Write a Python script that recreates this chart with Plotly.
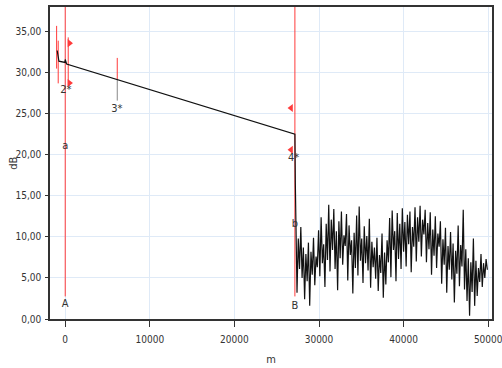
import plotly.graph_objects as go

# ---- data ----
y_ticks = [0, 5, 10, 15, 20, 25, 30, 35]
y_tick_labels = ["0,00", "5,00", "10,00", "15,00", "20,00", "25,00", "30,00", "35,00"]
x_ticks = [0, 10000, 20000, 30000, 40000, 50000]
x_tick_labels = ["0", "10000", "20000", "30000", "40000", "50000"]

# fibre trace (m, dB)
trace_m = [-950, -745, -35, 0, 165, 27150, 27200, 27250, 27300]
trace_db = [32.7, 31.4, 31.25, 31.6, 31.06, 22.5, 16.6, 11.0, 7.5]

# noise after fibre end
noise_start_m = 27400
noise_step_m = 150
noise_db = [
    3.2, 9.8, 6.1, 11.2, 5.0, 8.7, 2.4, 7.9, 4.6, 9.3, 1.6, 8.2,
    5.4, 9.9, 4.1, 7.6, 6.3, 10.8, 5.2, 12.4, 6.8, 9.1, 3.9, 11.6,
    7.2, 13.9, 5.8, 12.1, 8.4, 13.4, 6.1, 10.7, 3.5, 11.9, 7.4, 13.1,
    6.6, 10.2, 8.9, 12.8, 4.7, 11.4, 7.8, 9.6, 3.1, 10.5, 6.2, 12.6,
    5.3, 13.7, 7.1, 9.8, 4.4, 11.3, 6.8, 10.1, 5.9, 12.2, 3.8, 9.4,
    6.3, 8.7, 4.9, 9.9, 3.4, 7.8, 5.6, 10.4, 2.6, 8.1, 4.2, 9.6,
    6.9, 12.3, 5.1, 13.2, 8.4, 10.7, 4.6, 12.9, 7.3, 11.6, 6.1, 13.5,
    8.2, 11.8, 6.4, 12.7, 9.1, 13.1, 5.7, 11.2, 8.8, 13.6, 7.0, 12.4,
    9.4, 13.8, 7.6, 12.1, 10.3, 13.3, 6.9, 11.7, 8.5, 13.0, 5.4, 10.9,
    7.7, 12.5, 6.2, 10.4, 8.8, 11.9, 4.3, 9.7, 6.6, 11.1, 3.2, 8.9,
    6.0, 10.6, 4.8, 9.2, 2.0, 8.3, 5.5, 11.4, 4.0, 9.0, 6.4, 13.3,
    3.6, 8.5, 2.2, 7.4, 0.4, 6.9, 3.3, 9.8, 1.6, 7.1, 2.8, 6.2,
    4.5, 7.9, 3.9, 6.8, 5.0, 7.3, 6.0,
]
noise_m = [noise_start_m + i * noise_step_m for i in range(len(noise_db))]

# cursor markers A / B
cursor_m = [0, 27150]
cursor_top_db = 38.0
cursor_bottom_db = 2.75
cursor_upper_labels = ["a", "b"]
cursor_upper_label_db = [21.0, 11.6]
cursor_lower_labels = ["A", "B"]
cursor_lower_label_db = [1.75, 1.5]

# red event segments (m, dB from, dB to)
event_seg_m = [-1017, -830, 355, 6150]
event_seg_top = [35.7, 33.9, 34.3, 31.8]
event_seg_bot = [30.5, 28.7, 28.3, 29.15]
# grey continuation of event 3 marker
event3_grey_m = 6150
event3_grey_db = [29.15, 26.6]

# event labels
event_label_text = ["2*", "3*", "4*"]
event_label_m = [80, 6110, 27000]
event_label_db = [27.9, 25.5, 19.6]

# arrows
arrow_right_m = [500, 500]
arrow_right_db = [33.6, 28.75]
arrow_left_m = [26700, 26700]
arrow_left_db = [25.7, 20.6]

x_title = "m"
y_title = "dB"

RED = "#ff3b3b"
FONT = "DejaVu Sans Condensed, DejaVu Sans, sans-serif"
TXT = "#333333"

fig = go.Figure()

# cursor lines
for m in cursor_m:
    fig.add_trace(go.Scatter(x=[m, m], y=[cursor_top_db, cursor_bottom_db], mode="lines",
                             line=dict(color=RED, width=1), hoverinfo="skip", showlegend=False))

# event segments
for m, t, b in zip(event_seg_m, event_seg_top, event_seg_bot):
    fig.add_trace(go.Scatter(x=[m, m], y=[t, b], mode="lines",
                             line=dict(color=RED, width=1), hoverinfo="skip", showlegend=False))
fig.add_trace(go.Scatter(x=[event3_grey_m, event3_grey_m], y=event3_grey_db, mode="lines",
                         line=dict(color="#888888", width=1), hoverinfo="skip", showlegend=False))

# main trace + noise
fig.add_trace(go.Scatter(x=trace_m + noise_m, y=trace_db + noise_db, mode="lines",
                         line=dict(color="#111111", width=1.2), showlegend=False))

# arrows
fig.add_trace(go.Scatter(x=arrow_right_m, y=arrow_right_db, mode="markers",
                         marker=dict(symbol="triangle-right", color=RED, size=7), showlegend=False))
fig.add_trace(go.Scatter(x=arrow_left_m, y=arrow_left_db, mode="markers",
                         marker=dict(symbol="triangle-left", color=RED, size=7), showlegend=False))

# labels
lab_font = dict(family=FONT, size=11, color=TXT)
fig.add_trace(go.Scatter(x=cursor_m, y=cursor_upper_label_db, mode="text", text=cursor_upper_labels,
                         textfont=lab_font, showlegend=False))
fig.add_trace(go.Scatter(x=cursor_m, y=cursor_lower_label_db, mode="text", text=cursor_lower_labels,
                         textfont=lab_font, showlegend=False))
fig.add_trace(go.Scatter(x=event_label_m, y=event_label_db, mode="text", text=event_label_text,
                         textfont=lab_font, showlegend=False))

axis_common = dict(
    showline=True, linecolor="#333333", linewidth=1.5, mirror=True,
    showgrid=True, gridcolor="#dfeaf7", gridwidth=1,
    ticks="outside", tickcolor="#333333", zeroline=False, automargin=False,
    ticklabeloverflow="allow",
    tickfont=dict(family=FONT, size=10, color=TXT),
)

fig.update_xaxes(range=[-1800, 50450], tickvals=x_ticks, ticktext=x_tick_labels,
                 ticklen=6, ticklabelstandoff=4,
                 title=dict(text=x_title, font=dict(family=FONT, size=11, color=TXT), standoff=12),
                 **axis_common)
fig.update_yaxes(range=[0, 38], tickvals=y_ticks, ticktext=y_tick_labels,
                 ticklen=3, ticklabelstandoff=2,
                 **axis_common)

fig.add_annotation(text=y_title, xref="paper", yref="paper", x=-0.084, y=0.5,
                   xanchor="center", yanchor="middle", textangle=-90, showarrow=False,
                   font=dict(family=FONT, size=11, color=TXT))

fig.update_layout(
    width=502, height=368,
    margin=dict(l=50, r=10, t=7, b=49),
    paper_bgcolor="white", plot_bgcolor="white",
    showlegend=False,
)

# remove the default 8px page margin so the figure sits at the window's corner
fig.write_html("out.html", config={"displayModeBar": False},
               post_script="document.body.style.margin='0';")
